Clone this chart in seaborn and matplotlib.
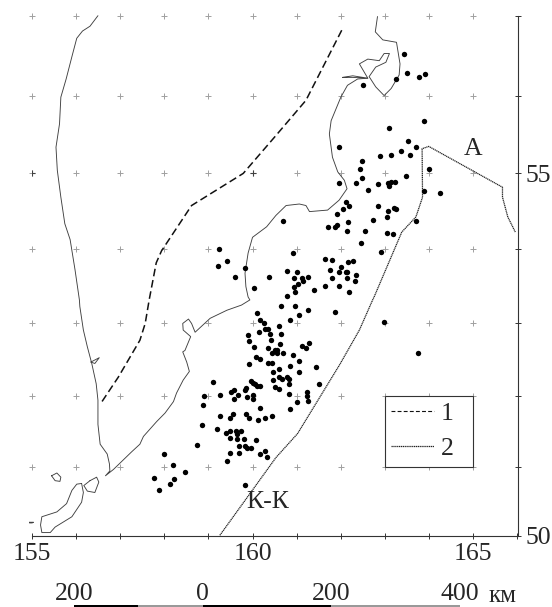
import numpy as np
import pandas as pd
import matplotlib
matplotlib.use('Agg')
import matplotlib.pyplot as plt
import seaborn as sns

# координаты эпицентров
lon_pts = [163.44,163.50,163.78,163.90,163.24,162.50,163.89,163.08,163.51,161.95,163.71,163.37,163.14,162.89,163.56,162.49,162.43,164.00,162.49,163.48,
           161.95,162.35,162.85,163.22,163.13,163.07,163.08,162.61,163.89,164.24,162.11,162.18,162.85,163.20,163.24,163.07,162.06,161.92,163.05,162.73,
           163.70,162.16,160.69,161.71,161.87,161.91,162.15,162.55,163.04,163.17,162.46,162.92,160.92,161.65,161.80,162.16,162.27,162.00,160.78,161.75,
           161.00,161.95,162.11,162.14,162.34,160.94,161.13,161.14,161.25,161.80,162.14,162.32,161.03,160.94,161.65,161.95,161.40,160.97,162.19,160.78,
           160.65,160.97,161.25,161.05,160.84,161.87,162.97,160.61,160.65,160.62,161.29,161.12,161.21,160.55,160.55,160.68,160.92,163.75,161.05,160.84,
           161.44,160.61,161.05,160.59,160.67,160.77,160.82,160.82,161.50,160.59,160.82,161.23,161.23,161.26,161.00,160.86,
           160.11,160.17,160.25,159.89,160.15,160.28,160.34,160.40,160.41,159.91,160.34,160.03,160.52,160.43,160.07,160.18,160.34,160.43,159.93,160.46,
           160.47,160.50,159.11,159.96,160.00,160.06,160.10,160.16,159.85,159.84,159.51,159.59,159.66,158.91,159.26,159.87,160.00,160.00,159.59,158.89,
           160.18,160.43,160.28,160.12,159.26,159.85,159.91,159.56,159.49,158.86,159.20,159.40,159.49,159.63,159.73,159.64,159.48,159.64,159.81,160.07,
           158.74,159.70,159.82,159.87,159.96,159.50,159.70,160.28,160.18,160.32,157.99,159.42,158.19,158.48,157.78,158.22,158.13,157.88,159.82,
           159.24,159.43,159.21,159.60,159.83,160.37,160.03]
lat_pts = [56.52,56.29,56.24,56.27,56.21,56.13,55.68,55.59,55.42,55.34,55.34,55.29,55.24,55.23,55.24,55.16,55.06,55.06,54.94,54.96,
           54.87,54.87,54.86,54.89,54.89,54.87,54.84,54.78,54.77,54.74,54.62,54.58,54.58,54.55,54.53,54.51,54.53,54.47,54.43,54.39,
           54.38,54.36,54.38,54.30,54.30,54.32,54.25,54.25,54.22,54.20,54.09,53.96,53.95,53.87,53.86,53.83,53.85,53.76,53.71,53.72,
           53.69,53.69,53.69,53.70,53.65,53.62,53.62,53.57,53.63,53.61,53.61,53.58,53.53,53.50,53.51,53.51,53.45,53.43,53.43,53.37,
           53.24,53.24,53.19,53.12,53.05,53.15,53.02,52.97,52.86,52.72,52.73,52.69,52.67,52.63,52.60,52.59,52.57,52.60,52.49,52.42,
           52.40,52.38,52.33,52.26,52.23,52.26,52.23,52.17,52.16,52.09,52.03,52.06,52.00,51.93,51.91,51.81,
           53.14,53.05,53.01,52.84,52.88,52.92,52.92,52.86,52.77,52.76,52.67,52.68,52.63,52.60,52.54,52.51,52.46,52.45,52.44,52.33,
           52.22,52.13,52.20,52.21,52.18,52.16,52.14,52.14,52.11,52.08,52.06,52.08,52.01,52.00,52.01,51.98,52.01,51.95,51.96,51.87,
           51.83,51.72,51.69,51.66,51.72,51.75,51.69,51.74,51.69,51.59,51.54,51.48,51.51,51.50,51.50,51.46,51.41,51.39,51.40,51.38,
           51.31,51.30,51.29,51.27,51.27,51.20,51.20,51.22,51.18,51.14,51.18,51.08,51.02,50.92,50.84,50.82,50.75,50.67,50.74,
           54.00,53.85,53.78,53.63,53.75,53.63,53.48]

# западный берег и восточный берег
coast_lon = [156.50,156.32,156.15,156.02,155.91,155.78,155.66,155.63,155.55,155.58,155.66,155.75,155.87,155.98,156.08,156.09,156.17,156.26,156.36,156.46,
             156.50,156.50,156.55,156.71,156.76,156.77,156.67,156.85,157.26,157.45,157.53,157.83,158.02,158.21,158.28,158.43,158.57,158.51,158.42,158.47,158.60,158.43,158.42,158.55,158.62,158.70,
             159.04,159.42,159.75,159.94,159.90,159.85,159.83,159.90,160.00,160.32,160.53,160.76,161.06,161.21,161.29,161.70,161.96,162.14,162.08,161.93,
             161.81,161.74,161.78,162.00,162.15,162.38,162.61,162.42,162.61,162.87,162.98,163.10,163.02,162.79,162.64,162.79,162.98,163.14,163.32,163.34,
             163.26,162.95,162.78,162.83]
coast_lat = [57.00,56.87,56.81,56.72,56.49,56.21,55.98,55.64,55.34,55.04,54.69,54.34,54.13,53.73,53.32,53.23,52.91,52.68,52.45,52.17,
             51.94,51.60,51.32,51.18,51.04,50.94,50.87,50.96,51.21,51.32,51.43,51.64,51.76,51.92,52.04,52.22,52.34,52.47,52.61,52.63,52.82,52.91,53.00,53.06,53.00,52.88,
             53.07,53.18,53.25,53.32,53.36,53.50,53.68,53.95,54.16,54.30,54.45,54.58,54.60,54.58,54.50,54.52,54.65,54.80,54.91,55.02,
             55.21,55.51,55.68,55.98,56.13,56.21,56.22,56.40,56.46,56.44,56.53,56.53,56.42,56.36,56.24,56.11,56.00,56.09,56.26,56.40,
             56.67,56.70,56.80,56.99]
spit_lon = [162.04,162.27,162.61,162.27,162.04]
spit_lat = [56.23,56.25,56.22,56.23,56.23]

# острова
isl_a_lon = [156.32,156.47,156.52,156.43,156.26,156.18,156.32]
isl_a_lat = [50.80,50.85,50.78,50.63,50.65,50.73,50.80]
isl_b_lon = [156.13,156.02,155.91,155.79,155.57,155.23,155.20,155.23,155.42,155.53,155.91,156.13,156.17,156.13]
isl_b_lat = [50.76,50.75,50.66,50.47,50.35,50.28,50.16,50.05,50.05,50.13,50.28,50.49,50.63,50.76]
isl_c_lon = [155.45,155.57,155.66,155.64,155.53,155.45]
isl_c_lat = [50.87,50.91,50.85,50.79,50.80,50.87]
isl_d_lon = [154.95,155.04,155.01,154.95,154.95]
isl_d_lat = [50.20,50.20,50.19,50.19,50.20]
lake_lon = [156.34,156.53,156.43,156.34]
lake_lat = [52.47,52.53,52.45,52.47]

dash_lon = [162.02,161.21,160.53,159.79,158.62,157.94,157.82,157.66,157.57,157.45,156.96,156.57]
dash_lat = [56.82,55.94,55.49,55.00,54.58,53.98,53.82,53.32,53.00,52.77,52.26,51.90]
trench_lon = [159.26,160.53,161.02,161.97,162.42,162.72,162.76,163.38,163.70,163.85,163.84,163.99,165.66,165.66,165.78,165.95]
trench_lat = [50.01,51.13,51.47,52.43,52.91,53.32,53.37,54.23,54.43,54.69,55.32,55.35,54.82,54.69,54.43,54.23]

grid_lon = [155,156,157,158,159,160,161,162,163,164,165]
grid_lat = [51,52,53,54,55,56,57]
dark_lon = [155,160]
dark_lat = [55,55]
x_ticks = [155,156,157,158,159,160,161,162,163,164,165,166]
x_labels = ['155','','','','','160','','','','','165','']
y_ticks = [50,51,52,53,54,55,56,57]
y_labels = ['50','','','','','55','','']

scale_edges = [-200,-100,0,200,400]
scale_colors = ['black','#999999','black','#999999']
scale_ticks = [-200,0,200,400]
scale_labels = ['200','0','200','400']


def merc(v):
    return np.degrees(np.log(np.tan(np.pi / 4 + np.radians(np.asarray(v, dtype=float)) / 2)))


def merc_inv(v):
    return np.degrees(2 * np.arctan(np.exp(np.radians(np.asarray(v, dtype=float)))) - np.pi / 2)


sns.set_style('white')
plt.rcParams['font.family'] = ['Liberation Serif', 'DejaVu Serif']
W, H = 552, 607
fig = plt.figure(figsize=(W / 100, H / 100), dpi=100)
ax = fig.add_axes([31.7 / W, 1 - 536 / H, (517.5 - 31.7) / W, (536 - 15.7) / H])
ax.set_yscale('function', functions=(merc, merc_inv))
ax.set_xlim(155, 166)
ax.set_ylim(50, 57)


def thin(xs, ys):
    sns.lineplot(x=xs, y=ys, ax=ax, sort=False, estimator=None, color='#404040', lw=0.65, clip_on=False)


grid = pd.DataFrame([(a, b) for a in grid_lon for b in grid_lat], columns=['lon', 'lat'])
sns.scatterplot(data=grid, x='lon', y='lat', ax=ax, marker='+', s=16, color='#a0a0a0', linewidth=0.7, clip_on=False, zorder=1)
sns.scatterplot(x=dark_lon, y=dark_lat, ax=ax, marker='+', s=16, color='#404040', linewidth=0.8, zorder=1)

thin(coast_lon, coast_lat)
thin(spit_lon, spit_lat)
for xs, ys in [(isl_a_lon, isl_a_lat), (isl_b_lon, isl_b_lat), (isl_c_lon, isl_c_lat), (isl_d_lon, isl_d_lat), (lake_lon, lake_lat)]:
    thin(xs, ys)

sns.lineplot(x=dash_lon, y=dash_lat, ax=ax, sort=False, estimator=None, color='#111111', lw=1.1,
             linestyle=(0, (5, 2.5)), label='1')
sns.lineplot(x=trench_lon, y=trench_lat, ax=ax, sort=False, estimator=None, color='#222222', lw=0.9,
             linestyle=(0, (1, 0.5)), label='2')

sns.scatterplot(x=lon_pts, y=lat_pts, ax=ax, s=15, color='black', linewidth=0, zorder=3)

ax.set(xlabel='', ylabel='')
ax.set_xticks(x_ticks, x_labels)
ax.set_yticks(y_ticks, y_labels)
ax.minorticks_off()
ax.yaxis.tick_right()
ax.tick_params(axis='both', direction='inout', length=4, width=0.7, color='#333333', labelsize=18.5, bottom=True, right=True, left=False)
ax.tick_params(axis='x', pad=3)
ax.tick_params(axis='y', pad=4)
for s in ['top', 'left']:
    ax.spines[s].set_visible(False)
for s in ['bottom', 'right']:
    ax.spines[s].set_color('#333333')
    ax.spines[s].set_linewidth(0.8)
    ax.spines[s].set_visible(True)

ax.text(165.0, 55.31, 'А', fontsize=18.5, ha='center', va='center')
ax.text(160.35, 50.49, 'К-К', fontsize=18.5, ha='center', va='center')

ax.add_patch(plt.Rectangle((163, 51), 2, 1, facecolor='white', edgecolor='#333333', linewidth=0.8, zorder=4))
leg = ax.legend(loc='upper left', bbox_to_anchor=(163.0, 52.0), bbox_transform=ax.transData, frameon=False,
                fontsize=18.5, handlelength=1.67, handletextpad=0.25,
                labelspacing=0.45, borderaxespad=0, borderpad=0.25)
leg.set_zorder(5)
leg.get_lines()[0].set_linewidth(0.8)
leg.get_lines()[0].set_linestyle((0, (3.5, 2)))

# масштабная линейка
ax2 = fig.add_axes([74 / W, 0, (460 - 74) / W, 2 / H])
for i, c in enumerate(scale_colors):
    ax2.barh(0, scale_edges[i + 1] - scale_edges[i], left=scale_edges[i], height=1, color=c, linewidth=0)
ax2.set_xlim(-200, 400)
ax2.set_ylim(-0.5, 0.5)
ax2.set_yticks([])
ax2.set_xticks(scale_ticks, scale_labels)
ax2.xaxis.tick_top()
ax2.tick_params(axis='x', length=0, pad=0, labelsize=18.5)
for s in ax2.spines.values():
    s.set_visible(False)
ax2.text(444, 2.0, 'км', fontsize=18, ha='left', va='baseline', clip_on=False)

fig.savefig('out.png', dpi=100)
